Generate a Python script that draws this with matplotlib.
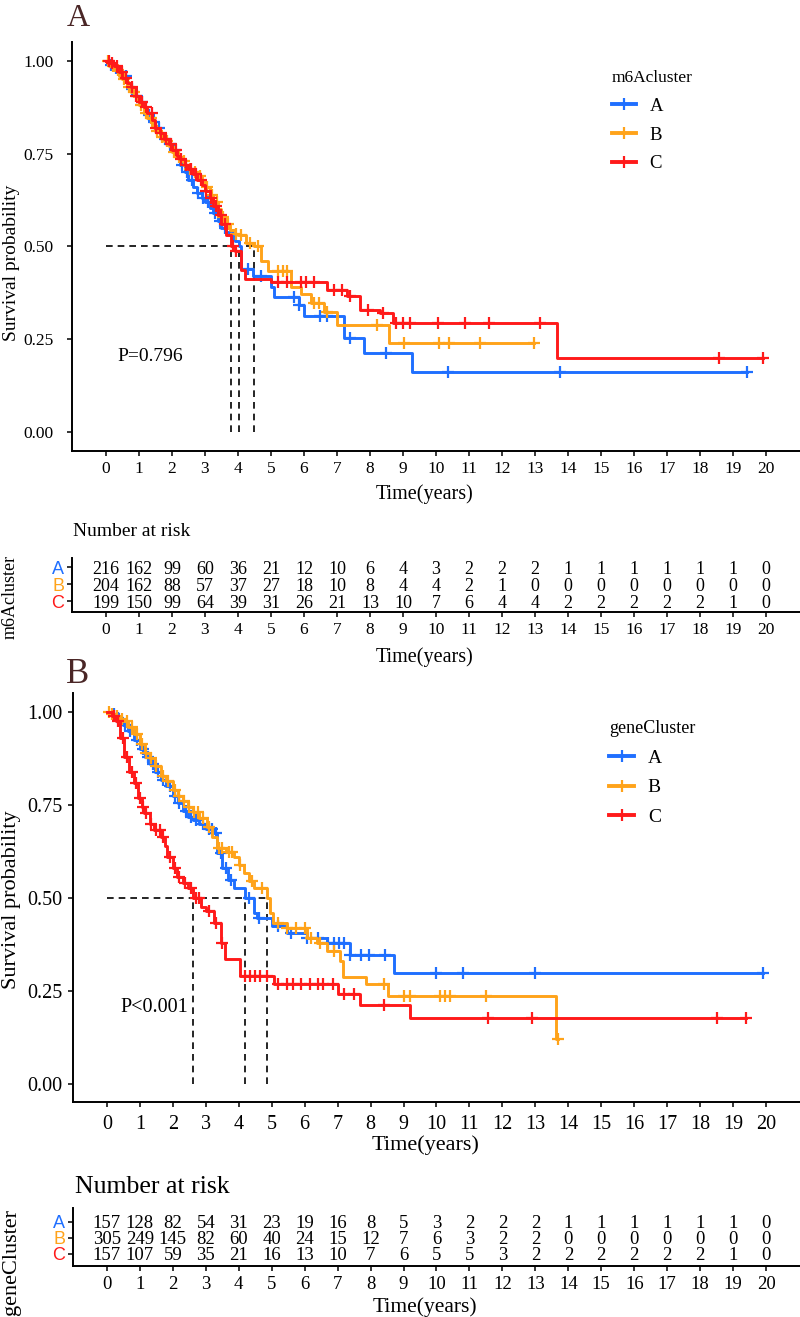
import numpy as np
import matplotlib
matplotlib.use("Agg")
import matplotlib.pyplot as plt
from matplotlib.lines import Line2D

# ---------- 基本设置 ----------
W, H = 800, 1317
SERIF = ["Liberation Serif", "DejaVu Serif"]
SANS = ["Liberation Sans", "DejaVu Sans"]
plt.rcParams["font.family"] = SERIF

GROUPS = ["A", "B", "C"]
COLORS = ["#1F6FFF", "#FFA31A", "#FF1A1A"]
YEARS = list(range(21))

# ---------- A: m6Acluster ----------
a_time_A = [0, 0.1, 0.25, 0.4, 0.5, 0.65, 0.75, 0.9, 1.0, 1.15, 1.25, 1.4, 1.5, 1.65, 1.75, 1.9, 2.0,
            2.15, 2.25, 2.4, 2.5, 2.65, 2.75, 2.9, 3.0, 3.15, 3.25, 3.4, 3.5, 3.65, 3.75, 3.9, 4.03,
            4.1, 4.45, 5.0, 5.1, 5.85, 6.0, 7.2, 7.83, 9.27, 19.43]
a_surv_A = [1.0, 0.99, 0.98, 0.97, 0.96, 0.94, 0.925, 0.905, 0.89, 0.87, 0.855, 0.835, 0.82, 0.80,
            0.79, 0.775, 0.76, 0.74, 0.72, 0.70, 0.68, 0.66, 0.645, 0.63, 0.62, 0.605, 0.59, 0.57,
            0.55, 0.54, 0.53, 0.515, 0.50, 0.44, 0.42, 0.39, 0.364, 0.342, 0.3125, 0.253, 0.2125,
            0.161, 0.161]
a_time_B = [0, 0.1, 0.25, 0.4, 0.5, 0.65, 0.75, 0.9, 1.0, 1.15, 1.25, 1.4, 1.5, 1.65, 1.75, 1.9, 2.0,
            2.15, 2.25, 2.4, 2.5, 2.65, 2.75, 2.9, 3.0, 3.15, 3.25, 3.4, 3.5, 3.65, 3.75, 3.9, 4.0,
            4.25, 4.48, 4.7, 4.9, 5.6, 5.9, 6.2, 6.6, 7.0, 8.57, 12.96]
a_surv_B = [1.0, 0.985, 0.975, 0.96, 0.95, 0.93, 0.915, 0.895, 0.88, 0.86, 0.845, 0.825, 0.81, 0.795,
            0.785, 0.77, 0.755, 0.74, 0.73, 0.72, 0.71, 0.70, 0.69, 0.675, 0.66, 0.64, 0.62, 0.60,
            0.58, 0.56, 0.545, 0.535, 0.53, 0.51, 0.50, 0.46, 0.435, 0.39, 0.373, 0.348, 0.324,
            0.288, 0.241, 0.241]
a_time_C = [0, 0.1, 0.25, 0.4, 0.5, 0.65, 0.75, 0.9, 1.0, 1.15, 1.25, 1.4, 1.5, 1.65, 1.75, 1.9, 2.0,
            2.15, 2.25, 2.4, 2.5, 2.65, 2.75, 2.9, 3.0, 3.15, 3.25, 3.4, 3.5, 3.65, 3.79, 3.9, 4.08,
            4.2, 5.0, 6.7, 7.3, 7.7, 8.3, 8.7, 13.66, 19.92]
a_surv_C = [1.0, 0.995, 0.985, 0.97, 0.955, 0.94, 0.93, 0.905, 0.89, 0.875, 0.86, 0.84, 0.82, 0.805,
            0.79, 0.775, 0.76, 0.745, 0.735, 0.72, 0.71, 0.695, 0.68, 0.665, 0.65, 0.63, 0.61, 0.585,
            0.56, 0.53, 0.50, 0.489, 0.436, 0.413, 0.404, 0.384, 0.366, 0.329, 0.321, 0.295, 0.20,
            0.20]
a_cens_A = [0.15, 0.3, 0.45, 0.6, 0.8, 0.95, 1.1, 1.3, 1.45, 1.6, 1.8, 1.95, 2.1, 2.3, 2.45, 2.6, 2.8,
            2.95, 3.1, 3.3, 3.45, 3.6, 3.85, 4.3, 4.7, 5.7, 5.85, 6.5, 6.7, 7.4, 8.5, 10.36, 13.77,
            19.43]
a_cens_B = [0.05, 0.2, 0.35, 0.55, 0.7, 0.85, 1.05, 1.2, 1.35, 1.55, 1.7, 1.85, 2.05, 2.2, 2.35, 2.55,
            2.7, 2.85, 3.05, 3.2, 3.35, 3.55, 3.7, 3.95, 4.1, 4.35, 4.6, 5.2, 5.35, 5.5, 6.3, 6.45,
            6.7, 8.2, 9.04, 10.1, 10.4, 11.33, 12.96]
a_cens_C = [0.08, 0.18, 0.33, 0.48, 0.62, 0.78, 0.92, 1.08, 1.22, 1.38, 1.52, 1.68, 1.82, 1.98, 2.12,
            2.28, 2.42, 2.58, 2.72, 2.88, 3.02, 3.18, 3.32, 3.48, 3.62, 3.85, 3.95, 5.2, 5.5, 5.9,
            6.05, 6.3, 6.9, 7.15, 7.4, 7.95, 8.4, 8.8, 9.0, 9.2, 10.05, 10.87, 11.6, 13.15, 18.57,
            19.92]
a_risk_A = [216, 162, 99, 60, 36, 21, 12, 10, 6, 4, 3, 2, 2, 2, 1, 1, 1, 1, 1, 1, 0]
a_risk_B = [204, 162, 88, 57, 37, 27, 18, 10, 8, 4, 4, 2, 1, 0, 0, 0, 0, 0, 0, 0, 0]
a_risk_C = [199, 150, 99, 64, 39, 31, 26, 21, 13, 10, 7, 6, 4, 4, 2, 2, 2, 2, 2, 1, 0]

# ---------- B: geneCluster ----------
b_time_A = [0, 0.1, 0.25, 0.4, 0.5, 0.65, 0.82, 1.0, 1.15, 1.3, 1.45, 1.64, 1.8, 2.0, 2.15, 2.3,
            2.45, 2.6, 2.8, 3.0, 3.25, 3.35, 3.5, 3.66, 3.85, 4.2, 4.45, 4.55, 5.0, 5.45, 6.06,
            6.68, 7.38, 8.7, 19.9]
b_surv_A = [1.0, 0.995, 0.985, 0.975, 0.965, 0.95, 0.925, 0.90, 0.88, 0.86, 0.84, 0.817, 0.80,
            0.775, 0.755, 0.735, 0.718, 0.71, 0.70, 0.685, 0.675, 0.62, 0.58, 0.548, 0.527, 0.50,
            0.46, 0.446, 0.424, 0.406, 0.393, 0.38, 0.348, 0.299, 0.299]
b_time_B = [0, 0.1, 0.25, 0.4, 0.5, 0.65, 0.82, 1.0, 1.15, 1.3, 1.45, 1.64, 1.8, 2.0, 2.15, 2.3,
            2.45, 2.6, 2.8, 3.05, 3.2, 3.35, 3.6, 3.85, 4.0, 4.15, 4.3, 4.45, 4.87, 4.95, 5.05,
            5.45, 6.06, 6.37, 6.68, 7.06, 7.15, 7.85, 8.54, 13.62, 13.7]
b_surv_B = [1.0, 0.995, 0.99, 0.98, 0.975, 0.96, 0.94, 0.915, 0.89, 0.875, 0.855, 0.828, 0.815,
            0.79, 0.775, 0.76, 0.745, 0.73, 0.715, 0.69, 0.665, 0.634, 0.625, 0.61, 0.59, 0.567,
            0.545, 0.527, 0.50, 0.46, 0.433, 0.42, 0.393, 0.38, 0.357, 0.33, 0.288, 0.268, 0.238,
            0.12, 0.12]
b_time_C = [0, 0.15, 0.27, 0.4, 0.52, 0.67, 0.82, 0.93, 1.05, 1.13, 1.3, 1.44, 1.64, 1.75, 1.83,
            2.0, 2.14, 2.3, 2.45, 2.62, 2.85, 3.0, 3.25, 3.45, 3.59, 4.05, 5.06, 7.0, 7.67, 9.2,
            19.4]
b_surv_C = [1.0, 0.99, 0.975, 0.93, 0.88, 0.84, 0.81, 0.77, 0.745, 0.728, 0.70, 0.683, 0.664, 0.64,
            0.61, 0.58, 0.557, 0.54, 0.527, 0.50, 0.476, 0.465, 0.433, 0.38, 0.335, 0.29, 0.268,
            0.241, 0.212, 0.179, 0.179]
b_cens_A = [0.2, 0.35, 0.55, 0.7, 0.9, 1.1, 1.25, 1.4, 1.55, 1.7, 1.9, 2.05, 2.2, 2.4, 2.55, 2.7,
            2.9, 3.1, 3.2, 3.3, 3.45, 3.6, 3.75, 4.3, 4.6, 5.2, 5.6, 6.06, 6.4, 6.7, 6.9, 7.05,
            7.2, 7.38, 7.7, 7.95, 8.45, 10.0, 10.8, 13.0, 19.9]
b_cens_B = [0.05, 0.15, 0.3, 0.45, 0.6, 0.75, 0.9, 1.05, 1.2, 1.35, 1.5, 1.7, 1.85, 2.05, 2.2, 2.35,
            2.5, 2.65, 2.75, 2.9, 3.1, 3.4, 3.5, 3.7, 3.8, 4.05, 4.4, 4.7, 5.2, 5.45, 5.75, 6.0,
            6.2, 6.45, 6.9, 8.4, 9.0, 9.2, 10.1, 10.25, 10.4, 11.5, 13.7]
b_cens_C = [0.2, 0.35, 0.5, 0.6, 0.75, 0.88, 1.0, 1.1, 1.2, 1.35, 1.5, 1.6, 1.7, 1.9, 2.05, 2.2,
            2.38, 2.55, 2.7, 2.8, 3.1, 3.3, 3.5, 4.2, 4.35, 4.5, 4.65, 4.85, 5.2, 5.45, 5.65, 5.9,
            6.15, 6.4, 6.55, 6.85, 7.2, 7.5, 8.4, 11.57, 12.9, 18.5, 19.4]
b_risk_A = [157, 128, 82, 54, 31, 23, 19, 16, 8, 5, 3, 2, 2, 2, 1, 1, 1, 1, 1, 1, 0]
b_risk_B = [305, 249, 145, 82, 60, 40, 24, 15, 12, 7, 6, 3, 2, 2, 0, 0, 0, 0, 0, 0, 0]
b_risk_C = [157, 107, 59, 35, 21, 16, 13, 10, 7, 6, 5, 5, 3, 2, 2, 2, 2, 2, 2, 1, 0]

fig = plt.figure(figsize=(W / 100, H / 100), dpi=100)


def px_axes(l, t, r, b):
    return fig.add_axes([l / W, 1 - b / H, (r - l) / W, (b - t) / H])


def ftext(x, y, s, **kw):
    fig.text(x / W, 1 - y / H, s, **kw)


def step_val(t, s, x):
    idx = np.searchsorted(t, x, side="right") - 1
    return np.asarray(s)[idx]


def style_axes(ax, ylim, fs, pad):
    ax.set_xlim(-1.03, 21.03)
    ax.set_ylim(*ylim)
    ax.set_xticks(YEARS)
    for side in ("top", "right"):
        ax.spines[side].set_visible(False)
    for side in ("left", "bottom"):
        ax.spines[side].set_linewidth(1.4)
    ax.tick_params(length=3.5, width=1.1, labelsize=fs, pad=pad, colors="black")


def km_panel(box, curves, cens, ylim, fs, ypad, xpad, p_text, p_xy, p_fs, title, leg_xy, leg_fs):
    ax = px_axes(*box)
    meds = []
    for (t, s), c, col in zip(curves, cens, COLORS):
        ax.step(t, s, where="post", color=col, lw=2.1, zorder=3)
        ax.plot(c, step_val(t, s, c), "+", color=col, ms=8, mew=1.6, zorder=3)
        s = np.asarray(s)
        meds.append(t[int(np.argmax(s <= 0.5))])
    ax.plot([0, max(meds)], [0.5, 0.5], color="black", lw=1.2, ls=(0, (4, 3)), zorder=2)
    for m in meds:
        ax.plot([m, m], [0, 0.5], color="black", lw=1.2, ls=(0, (4, 3)), zorder=2)
    style_axes(ax, ylim, fs, xpad)
    ax.set_yticks([0, 0.25, 0.5, 0.75, 1.0])
    ax.set_yticklabels(["0.00", "0.25", "0.50", "0.75", "1.00"])
    ax.tick_params(axis="y", pad=ypad)
    ax.text(p_xy[0], p_xy[1], p_text, fontsize=p_fs, ha="left", va="center")
    handles = [Line2D([], [], color=col, lw=2.8, marker="+", ms=9, mew=1.6) for col in COLORS]
    ax.legend(handles, GROUPS, title=title, loc="upper left", frameon=False,
              bbox_to_anchor=(leg_xy[0] / W, 1 - leg_xy[1] / H), bbox_transform=fig.transFigure,
              fontsize=leg_fs, title_fontsize=leg_fs - 1, handlelength=1.3, handletextpad=0.7,
              labelspacing=0.62, borderpad=0, borderaxespad=0, alignment="left")
    return ax


def risk_table(box, risks, ylim, fs, num_fs, let_fs):
    ax = px_axes(*box)
    style_axes(ax, ylim, fs, 4)
    ax.set_yticks([3, 2, 1])
    ax.set_yticklabels(GROUPS, family=SANS, fontsize=let_fs)
    for lab, col in zip(ax.get_yticklabels(), COLORS):
        lab.set_color(col)
    ax.tick_params(axis="y", pad=2)
    for row, vals in zip([3, 2, 1], risks):
        for x, v in zip(YEARS, vals):
            ax.text(x, row, str(v), ha="center", va="center_baseline", fontsize=num_fs)
    return ax


# ---------- 面板 A ----------
km_panel((72, 42, 800, 451),
         [(a_time_A, a_surv_A), (a_time_B, a_surv_B), (a_time_C, a_surv_C)],
         [a_cens_A, a_cens_B, a_cens_C], (-0.051, 1.051), 12.5, 10, 4,
         "P=0.796", (0.35, 0.204), 14, "m6Acluster", (612, 70), 13.5)
ftext(78, 26, "A", fontsize=23, color="#4a2626", ha="center", va="baseline")
ftext(12, 263, "Survival probability", fontsize=14, rotation=90, ha="center", va="center")
ftext(425, 494, "Time(years)", fontsize=14.5, ha="center", va="center")

risk_table((72, 558, 800, 612), [a_risk_A, a_risk_B, a_risk_C], (0.353, 3.53), 12.5, 13, 13)
ftext(73, 532, "Number at risk", fontsize=14, ha="left", va="center")
ftext(10, 597, "m6Acluster", fontsize=13, rotation=90, ha="center", va="center")
ftext(425, 657, "Time(years)", fontsize=14.5, ha="center", va="center")

# ---------- 面板 B ----------
km_panel((73, 693, 800, 1102),
         [(b_time_A, b_surv_A), (b_time_B, b_surv_B), (b_time_C, b_surv_C)],
         [b_cens_A, b_cens_B, b_cens_C], (-0.048, 1.051), 14.5, 4, 6,
         "P<0.001", (0.42, 0.207), 14.5, "geneCluster", (609, 720), 14)
ftext(78, 683, "B", fontsize=25, color="#4a2626", ha="center", va="baseline")
ftext(12, 900, "Survival probability", fontsize=16, rotation=90, ha="center", va="center")
ftext(425, 1145, "Time(years)", fontsize=16, ha="center", va="center")

risk_table((73, 1208, 800, 1266), [b_risk_A, b_risk_B, b_risk_C], (0.25, 3.875), 13.5, 13.5, 13)
ftext(75, 1187, "Number at risk", fontsize=18.5, ha="left", va="center")
ftext(12, 1262, "geneCluster", fontsize=16, rotation=90, ha="center", va="center")
ftext(425, 1307, "Time(years)", fontsize=15.5, ha="center", va="center")

fig.savefig("out.png", dpi=100)
